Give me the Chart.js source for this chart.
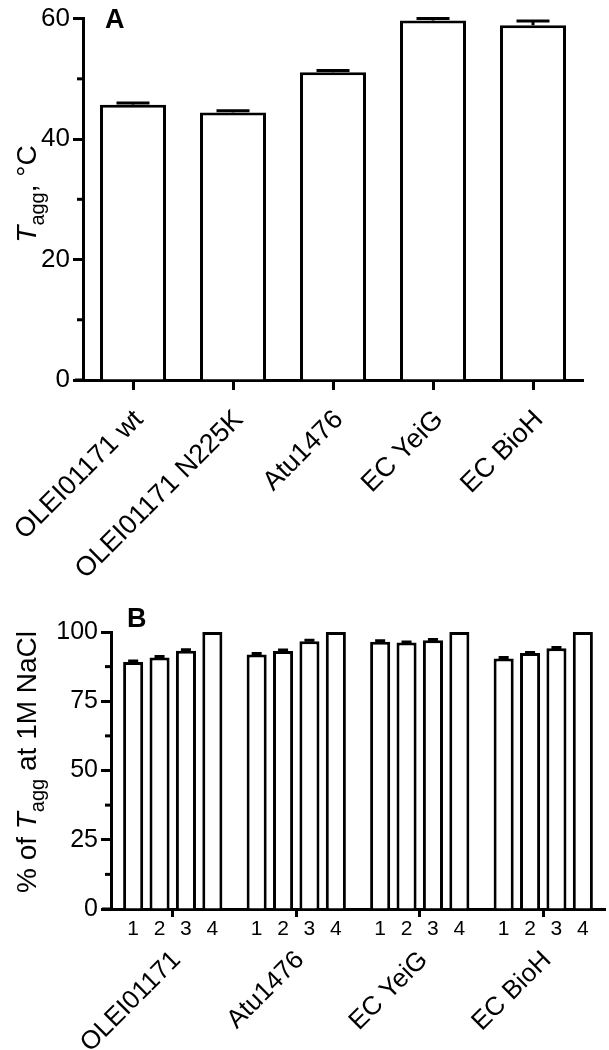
<!DOCTYPE html>
<html>
<head>
<meta charset="utf-8">
<script src="https://cdn.jsdelivr.net/npm/chart.js@4.4.1/dist/chart.umd.min.js"></script>
<style>
  body { margin: 0; background: #fff; }
  .panel { position: absolute; left: 0; width: 609px; }
  #panelA { top: 0; height: 580px; }
  #panelB { top: 580px; height: 470px; }
</style>
</head>
<body>
<div class="panel" id="panelA"><canvas id="chartA" width="609" height="580"></canvas></div>
<div class="panel" id="panelB"><canvas id="chartB" width="609" height="470"></canvas></div>
<script>
// Panel A: Tagg per protein
const proteinsA = ["OLEI01171 wt", "OLEI01171 N225K", "Atu1476", "EC YeiG", "EC BioH"];
const taggA = [45.7, 44.4, 51.1, 59.7, 58.9];
const taggErrA = [0.3, 0.3, 0.3, 0.3, 0.7];
const minorTicksA = [10, 30, 50];

// Panel B: % of Tagg at 1M NaCl, four conditions per protein
const proteinsB = ["OLEI01171", "Atu1476", "EC YeiG", "EC BioH"];
const conditionsB = ["1", "2", "3", "4"];
const pct1 = [89.2, 91.9, 96.5, 90.4];
const pct2 = [90.8, 93.1, 96.2, 92.4];
const pct3 = [93.2, 96.7, 97.0, 94.1];
const pct4 = [100, 100, 100, 100];
const err1 = [0.3, 0.3, 0.3, 0.4];
const err2 = [0.4, 0.4, 0.2, 0.2];
const err3 = [0.4, 0.3, 0.3, 0.3];
const err4 = [0, 0, 0, 0];
const minorTicksB = [12.5, 37.5, 62.5, 87.5];

const FONT = "'Liberation Sans', Arial, sans-serif";
Chart.defaults.font.family = FONT;
Chart.defaults.color = "#000";

function drawRichTitle(ctx, parts, cx, cy, size) {
  const fontFor = (p) => `${p.italic ? "italic " : ""}${p.sub ? Math.round(size * 0.72) : size}px ${FONT}`;
  ctx.save();
  ctx.translate(cx, cy);
  ctx.rotate(-Math.PI / 2);
  let total = 0;
  for (const p of parts) { ctx.font = fontFor(p); total += ctx.measureText(p.t).width; }
  let xx = -total / 2;
  ctx.textAlign = "left";
  ctx.textBaseline = "alphabetic";
  ctx.fillStyle = "#000";
  for (const p of parts) {
    ctx.font = fontFor(p);
    ctx.fillText(p.t, xx, p.sub ? size * 0.3 : 0);
    xx += ctx.measureText(p.t).width;
  }
  ctx.restore();
}

// axis stub, minor ticks, panel letter, y title
const panelDecor = {
  id: "panelDecor",
  afterDraw(chart, args, opts) {
    const { ctx, chartArea: ca } = chart;
    const y = chart.scales.y;
    ctx.save();
    ctx.strokeStyle = "#000";
    ctx.lineWidth = 3;
    ctx.beginPath();
    ctx.moveTo(ca.left - opts.stub, ca.bottom);
    ctx.lineTo(ca.left, ca.bottom);
    ctx.stroke();
    for (const v of opts.minor) {
      const py = y.getPixelForValue(v);
      ctx.beginPath();
      ctx.moveTo(ca.left - 6, py);
      ctx.lineTo(ca.left, py);
      ctx.stroke();
    }
    ctx.fillStyle = "#000";
    ctx.font = `bold 27px ${FONT}`;
    ctx.textAlign = "left";
    ctx.textBaseline = "top";
    ctx.fillText(opts.letter, opts.letterX, opts.letterY);
    ctx.restore();
    drawRichTitle(ctx, opts.title, opts.titleX, opts.titleY, 28);
  }
};

const errorBars = {
  id: "errorBars",
  afterDatasetsDraw(chart) {
    const { ctx } = chart;
    const y = chart.scales.y;
    ctx.save();
    ctx.strokeStyle = "#000";
    ctx.lineWidth = 3;
    chart.data.datasets.forEach((ds, i) => {
      if (!ds.err) return;
      chart.getDatasetMeta(i).data.forEach((bar, j) => {
        const e = ds.err[j];
        if (!e) return;
        const top = y.getPixelForValue(ds.data[j] + e);
        const half = bar.width * 0.25;
        ctx.beginPath();
        ctx.moveTo(bar.x, bar.y);
        ctx.lineTo(bar.x, top);
        ctx.moveTo(bar.x - half, top);
        ctx.lineTo(bar.x + half, top);
        ctx.stroke();
      });
    });
    ctx.restore();
  }
};

// condition numbers under each bar of panel B
const subLabels = {
  id: "subLabels",
  afterDraw(chart, args, opts) {
    const { ctx, chartArea } = chart;
    ctx.save();
    ctx.font = `${opts.size}px ${FONT}`;
    ctx.fillStyle = "#000";
    ctx.textAlign = "center";
    ctx.textBaseline = "middle";
    chart.data.datasets.forEach((ds, i) => {
      chart.getDatasetMeta(i).data.forEach((bar) => {
        ctx.fillText(ds.label, bar.x, chartArea.bottom + opts.offset);
      });
    });
    ctx.restore();
  }
};

const barStyle = { backgroundColor: "#fff", borderColor: "#000", borderWidth: 3, borderSkipped: "bottom" };

new Chart(document.getElementById("chartA"), {
  type: "bar",
  data: {
    labels: proteinsA,
    datasets: [{ data: taggA, err: taggErrA, ...barStyle, categoryPercentage: 1, barPercentage: 0.66 }]
  },
  options: {
    responsive: false,
    animation: false,
    layout: { padding: { top: 15, right: 26, left: 0, bottom: 0 } },
    plugins: {
      legend: { display: false },
      tooltip: { enabled: false },
      panelDecor: {
        stub: 8, minor: minorTicksA, letter: "A", letterX: 105, letterY: 7,
        title: [{ t: "T", italic: true }, { t: "agg", sub: true }, { t: ", °C" }],
        titleX: 36, titleY: 194
      }
    },
    scales: {
      x: {
        grid: { drawOnChartArea: false, tickLength: 10, tickWidth: 3, tickColor: "#000", offset: false },
        border: { color: "#000", width: 3 },
        ticks: { font: { size: 27 }, color: "#000", maxRotation: 45, minRotation: 45, padding: 14, labelOffset: 6 },
        afterFit(s) { s.height = 200; s.paddingLeft = 0; s.paddingRight = 0; }
      },
      y: {
        min: 0, max: 60,
        ticks: { stepSize: 20, font: { size: 26 }, color: "#000", padding: 3 },
        grid: { drawOnChartArea: false, tickLength: 10, tickWidth: 3, tickColor: "#000" },
        border: { color: "#000", width: 3 },
        afterFit(s) { s.width = 83; }
      }
    }
  },
  plugins: [panelDecor, errorBars]
});

const seriesB = [pct1, pct2, pct3, pct4];
const errsB = [err1, err2, err3, err4];

new Chart(document.getElementById("chartB"), {
  type: "bar",
  data: {
    labels: proteinsB,
    datasets: conditionsB.map((c, i) => ({
      label: c, data: seriesB[i], err: errsB[i], ...barStyle,
      categoryPercentage: 0.855, barPercentage: 0.76
    }))
  },
  options: {
    responsive: false,
    animation: false,
    layout: { padding: { top: 52, right: 4, left: 0, bottom: 0 } },
    plugins: {
      legend: { display: false },
      tooltip: { enabled: false },
      subLabels: { size: 21, offset: 20 },
      panelDecor: {
        stub: 9, minor: minorTicksB, letter: "B", letterX: 127, letterY: 26,
        title: [{ t: "% of " }, { t: "T", italic: true }, { t: "agg", sub: true }, { t: " at 1M NaCl" }],
        titleX: 36, titleY: 182
      }
    },
    scales: {
      x: {
        grid: { drawOnChartArea: false, tickLength: 8, tickWidth: 3, tickColor: "#000", offset: false },
        border: { color: "#000", width: 3 },
        ticks: { font: { size: 26 }, color: "#000", maxRotation: 45, minRotation: 45, padding: 28, labelOffset: 4 },
        afterFit(s) { s.height = 141; s.paddingLeft = 0; s.paddingRight = 0; }
      },
      y: {
        min: 0, max: 100,
        ticks: { stepSize: 25, font: { size: 25 }, color: "#000", padding: 3 },
        grid: { drawOnChartArea: false, tickLength: 10, tickWidth: 3, tickColor: "#000" },
        border: { color: "#000", width: 3 },
        afterFit(s) { s.width = 111; }
      }
    }
  },
  plugins: [panelDecor, errorBars, subLabels]
});
</script>
</body>
</html>
